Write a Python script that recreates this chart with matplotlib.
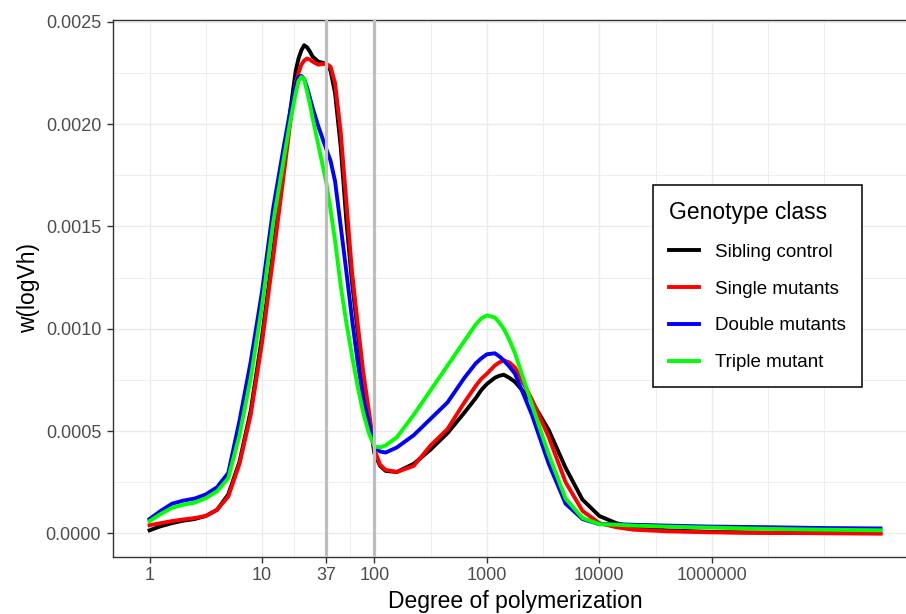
import numpy as np
import matplotlib
matplotlib.use('Agg')
import matplotlib.pyplot as plt
from matplotlib.lines import Line2D
from matplotlib.ticker import NullFormatter

plt.rcParams['font.family'] = ['Liberation Sans', 'DejaVu Sans']

# log10 of degree of polymerization, common grid for all series
log_dp = np.array([0, 0.1, 0.2, 0.3, 0.4, 0.5, 0.6, 0.7, 0.8, 0.9,
                   1.0, 1.1, 1.2, 1.25, 1.3, 1.325, 1.35, 1.375, 1.4, 1.425,
                   1.45, 1.5, 1.57, 1.61, 1.65, 1.7, 1.75, 1.8, 1.85, 1.9,
                   1.95, 2.0, 2.05, 2.1, 2.2, 2.35, 2.5, 2.65, 2.8, 2.9,
                   2.95, 3.0, 3.07, 3.11, 3.15, 3.2, 3.25, 3.4, 3.55, 3.7,
                   3.85, 4.0, 4.15, 4.3, 4.6, 5.0, 5.5, 6.0, 6.5])

# w(logVh) values, in units of 1e-4
sibling = [0.15, 0.35, 0.5, 0.62, 0.7, 0.85, 1.15, 1.9, 3.5, 6.0,
           9.6, 13.8, 18.3, 20.6, 22.6, 23.2, 23.6, 23.85, 23.75, 23.55,
           23.3, 23.05, 22.95, 22.6, 21.5, 18.9, 15.3, 12.3, 9.9, 7.5,
           5.7, 3.9, 3.3, 3.05, 3.0, 3.4, 4.1, 4.9, 5.9, 6.6,
           7.0, 7.3, 7.6, 7.7, 7.75, 7.6, 7.4, 6.45, 5.05, 3.2,
           1.65, 0.85, 0.5, 0.3, 0.15, 0.07, 0.03, 0.01, 0.0]
single = [0.4, 0.5, 0.6, 0.68, 0.75, 0.85, 1.15, 1.8, 3.4, 5.8,
          9.3, 13.5, 17.8, 20.0, 22.0, 22.5, 22.9, 23.1, 23.2, 23.15,
          23.05, 22.9, 22.95, 22.8, 22.0, 19.6, 16.2, 12.8, 10.3, 7.9,
          6.0, 4.1, 3.35, 3.1, 3.0, 3.3, 4.3, 5.1, 6.4, 7.2,
          7.55, 7.8, 8.2, 8.35, 8.45, 8.35, 8.1, 6.55, 4.7, 2.5,
          1.1, 0.5, 0.3, 0.18, 0.1, 0.05, 0.02, 0.01, 0.0]
double = [0.7, 1.1, 1.45, 1.6, 1.7, 1.9, 2.25, 2.95, 5.5, 8.4,
          11.8, 15.9, 19.1, 20.6, 21.9, 22.3, 22.35, 22.2, 21.8, 21.3,
          20.8, 19.9, 18.8, 18.2, 17.2, 15.0, 12.8, 10.5, 8.4, 6.6,
          5.4, 4.2, 4.0, 3.95, 4.2, 4.8, 5.6, 6.4, 7.6, 8.3,
          8.55, 8.75, 8.8, 8.65, 8.45, 8.15, 7.8, 5.8, 3.4, 1.45,
          0.7, 0.45, 0.45, 0.42, 0.38, 0.33, 0.3, 0.26, 0.24]
triple = [0.6, 0.95, 1.25, 1.4, 1.5, 1.72, 2.05, 2.7, 4.8, 7.6,
          11.1, 15.2, 18.5, 20.1, 21.5, 22.1, 22.3, 22.2, 21.6, 21.0,
          20.3, 19.0, 17.2, 15.8, 14.3, 12.1, 10.3, 8.7, 7.2, 5.9,
          4.9, 4.25, 4.2, 4.3, 4.7, 5.8, 7.0, 8.2, 9.4, 10.2,
          10.5, 10.65, 10.55, 10.3, 10.0, 9.45, 8.8, 6.3, 3.85, 1.7,
          0.75, 0.45, 0.42, 0.38, 0.33, 0.28, 0.22, 0.18, 0.15]

series = {'Sibling control': (sibling, '#000000'),
          'Single mutants': (single, '#FF0000'),
          'Double mutants': (double, '#0000FF'),
          'Triple mutant': (triple, '#00FF00')}

x_breaks = [1, 10, 37, 100, 1000, 10000, 100000]
x_labels = ['1', '10', '37', '100', '1000', '10000', '1000000']
y_breaks = [0, 0.0005, 0.0010, 0.0015, 0.0020, 0.0025]
cutoffs = [37, 100]

dp = 10 ** log_dp

fig = plt.figure(figsize=(9.06, 6.14), dpi=100)
ax = fig.add_axes([113 / 906, (614 - 556.7) / 614, (917 - 113) / 906, (556.7 - 20) / 614])

for name, (vals, col) in series.items():
    ax.plot(dp, np.array(vals) * 1e-4, color=col, lw=2.8, solid_joinstyle='round', zorder=3)

# reference cut-offs, drawn over the curves
for c in cutoffs:
    ax.axvline(c, color='#BEBEBE', lw=2.3, zorder=4)

ax.set_xscale('log')
ax.set_xlim(10 ** -0.325, 10 ** 6.825)
ax.set_ylim(-0.000114, 0.0025083)

ax.set_xticks(x_breaks)
ax.set_xticklabels(x_labels)
lb = np.log10(x_breaks)
minor_x = list((lb[:-1] + lb[1:]) / 2) + [5.5, 6.0]
ax.set_xticks([10 ** m for m in minor_x], minor=True)
ax.xaxis.set_minor_formatter(NullFormatter())
ax.set_yticks(y_breaks)
ax.set_yticklabels(['%.4f' % v for v in y_breaks])
ax.set_yticks(np.arange(0.00025, 0.0025, 0.0005), minor=True)
ax.yaxis.set_minor_formatter(NullFormatter())

ax.tick_params(which='major', length=4.5, width=1, color='#333333',
               labelsize=13, labelcolor='#4D4D4D')
ax.tick_params(axis='x', which='major', pad=3)
ax.tick_params(axis='y', which='major', pad=4)
ax.tick_params(which='minor', length=0)

ax.grid(which='major', color='#EBEBEB', lw=1.0)
ax.grid(which='minor', color='#EBEBEB', lw=0.6)
ax.set_axisbelow(True)
for s in ax.spines.values():
    s.set_color('#333333')
    s.set_linewidth(1.0)
ax.spines['right'].set_visible(False)

ax.set_xlabel('Degree of polymerization', fontsize=16.5, labelpad=4)
ax.set_ylabel('w(logVh)', fontsize=16.5, labelpad=4)

handles = [Line2D([], [], color=col, lw=2.8) for (vals, col) in series.values()]
leg = ax.legend(handles, list(series.keys()), title='Genotype class',
                loc='upper left', bbox_to_anchor=(653.3 / 906, 1 - 185 / 614),
                bbox_transform=fig.transFigure, borderaxespad=0,
                fontsize=13.5, title_fontsize=16.5,
                frameon=True, fancybox=False, framealpha=1, edgecolor='black',
                borderpad=0.85, labelspacing=1.05, handlelength=1.6,
                handletextpad=0.85, alignment='left')
leg.get_frame().set_linewidth(1.1)

fig.savefig('out.png', dpi=100)
